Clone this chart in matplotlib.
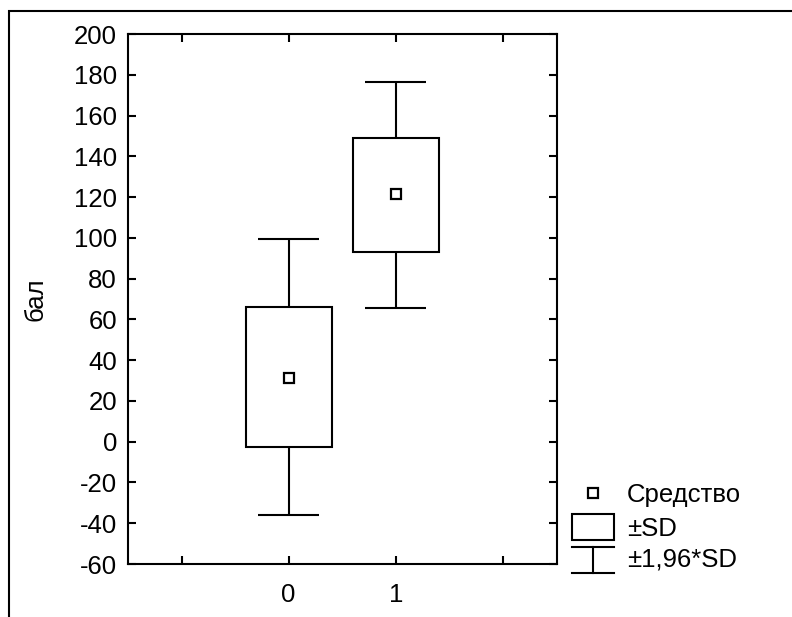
## BOX PLOT: mean, +-SD, +-1.96*SD ##
import matplotlib
matplotlib.use('Agg')
import matplotlib.pyplot as plt
from matplotlib.patches import Rectangle
from matplotlib.lines import Line2D

## DATA ##
groups = [0, 1]
means = [31.1, 121.5]
sd_low = [-2.7, 92.9]
sd_high = [66.1, 149.1]
ci_low = [-36.1, 65.7]
ci_high = [99.4, 176.3]

y_label = "бал"
legend_labels = ["Средство", "±SD", "±1,96*SD"]

## SETTINGS ##
plt.rcParams['font.family'] = ['Liberation Sans', 'DejaVu Sans']
plt.rcParams['axes.unicode_minus'] = False
fontSize = 18.5
lw = 1.5
W, H = 792, 617
axL, axR, axT, axB = 128, 556.5, 34, 564

fig = plt.figure(figsize=(W/100, H/100), dpi=100)
ax = fig.add_axes([axL/W, 1 - axB/H, (axR-axL)/W, (axB-axT)/H])

# boxes +-SD
heights = [h - l for h, l in zip(sd_high, sd_low)]
ax.bar(groups, heights, bottom=sd_low, width=0.8, fill=False,
       edgecolor='black', linewidth=lw, zorder=3)
# whiskers +-1.96*SD
ax.vlines(groups, sd_high, ci_high, color='black', linewidth=lw)
ax.vlines(groups, ci_low, sd_low, color='black', linewidth=lw)
ax.hlines(ci_high, [g - 0.285 for g in groups], [g + 0.285 for g in groups], color='black', linewidth=lw)
ax.hlines(ci_low, [g - 0.285 for g in groups], [g + 0.285 for g in groups], color='black', linewidth=lw)
# means
ax.plot(groups, means, linestyle='none', marker='s', markersize=7,
        markerfacecolor='white', markeredgecolor='black', markeredgewidth=1.6, zorder=4)

ax.set_xlim(-1.5, 2.5)
ax.set_ylim(-60, 200)
ax.set_xticks([-1, 0, 1, 2])
ax.set_xticklabels(["", "0", "1", ""])
ax.set_yticks(range(-60, 201, 20))
ax.tick_params(direction='in', length=6, width=lw, labelsize=fontSize,
               top=True, right=True, pad=8, colors='black')
ax.tick_params(axis='x', pad=14)
for s in ax.spines.values():
    s.set_linewidth(lw)
ax.set_ylabel(y_label, fontsize=fontSize, va='center')
ax.yaxis.set_label_coords((35 - axL)/(axR - axL), 0.5)

## OUTER FRAME ##
fig.add_artist(Rectangle((9/W, -0.1), 1.1, 1 - 11/H + 0.1, transform=fig.transFigure,
                         fill=False, edgecolor='black', linewidth=lw))

## LEGEND (drawn by hand, figure pixels) ##
def fx(px): return px / W
def fy(py): return 1 - py / H

fig.add_artist(Line2D([fx(593)], [fy(493)], marker='s', markersize=7, markerfacecolor='white',
                      markeredgecolor='black', markeredgewidth=1.6, linestyle='none'))
fig.add_artist(Rectangle((fx(572), fy(540)), fx(614) - fx(572), fy(514) - fy(540),
                         transform=fig.transFigure, fill=False, edgecolor='black', linewidth=lw))
fig.add_artist(Line2D([fx(572), fx(614)], [fy(547), fy(547)], color='black', linewidth=lw))
fig.add_artist(Line2D([fx(572), fx(614)], [fy(573), fy(573)], color='black', linewidth=lw))
fig.add_artist(Line2D([fx(593), fx(593)], [fy(547), fy(573)], color='black', linewidth=lw))
for lab, py in zip(legend_labels, [495, 529, 560]):
    fig.text(fx(627), fy(py), lab, fontsize=fontSize, va='center', ha='left')

plt.savefig('out.png', dpi=100)
